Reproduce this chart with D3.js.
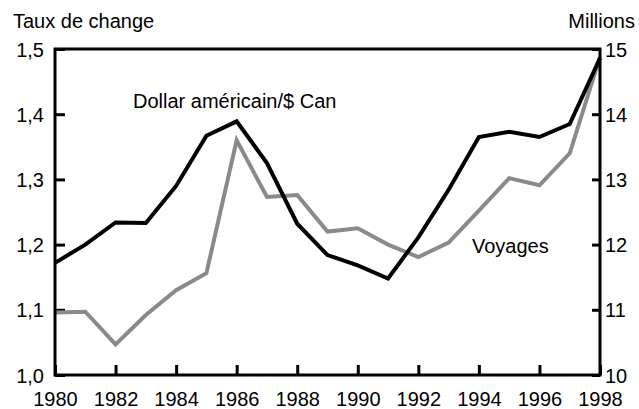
<!DOCTYPE html>
<html>
<head>
<meta charset="utf-8">
<script src="https://cdn.jsdelivr.net/npm/d3@7"></script>
<style>
  body { margin: 0; background: #fff; }
  svg text { font-family: "Liberation Sans", Arial, sans-serif; fill: #000; }
</style>
</head>
<body>
<svg id="chart" width="639" height="409"></svg>
<script>
const years = d3.range(1980, 1999)
// Dollar américain / $ Can (left axis)
const dollar = [1.172, 1.200, 1.234, 1.233, 1.290, 1.367, 1.389, 1.325, 1.232, 1.184,
                1.168, 1.148, 1.211, 1.284, 1.365, 1.373, 1.365, 1.385, 1.486]
// Voyages, millions (right axis)
const voyages = [10.96, 10.97, 10.47, 10.92, 11.30, 11.56, 13.60, 12.73, 12.76, 12.20,
                 12.25, 12.00, 11.81, 12.03, 12.52, 13.02, 12.91, 13.40, 14.88]
const leftTicks = [1.0, 1.1, 1.2, 1.3, 1.4, 1.5]
const rightTicks = [10, 11, 12, 13, 14, 15]
const xTicks = d3.range(1980, 1999, 2)

const svg = d3.select('#chart')
const margin = { top: 49, right: 39, bottom: 34, left: 55 }
const W = 639 - margin.left - margin.right
const H = 409 - margin.top - margin.bottom
const fs = '20px'

const x = d3.scaleLinear().domain([1980, 1998]).range([0, W])
const yL = d3.scaleLinear().domain([1.0, 1.5]).range([H, 0])
const yR = d3.scaleLinear().domain([10, 15]).range([H, 0])

const g = svg.append('g').attr('transform', `translate(${margin.left},${margin.top})`)

const comma = d => d3.format('.1f')(d).replace('.', ',')

// axes, ticks pointing inward
let ax = g.append('g').call(d3.axisLeft(yL).tickValues(leftTicks).tickFormat(comma).tickSize(-10).tickPadding(11))
ax.selectAll('text').style('font-size', fs).attr('dy', '0.35em')

let axR = g.append('g').attr('transform', `translate(${W},0)`)
    .call(d3.axisRight(yR).tickValues(rightTicks).tickFormat(d3.format('d')).tickSize(-8).tickPadding(5))
axR.selectAll('text').style('font-size', fs).attr('dy', '0.35em')

let axB = g.append('g').attr('transform', `translate(0,${H})`)
    .call(d3.axisBottom(x).tickValues(xTicks).tickFormat(d3.format('d')).tickSize(-10))
axB.selectAll('text').style('font-size', fs).attr('y', 31).attr('dy', 0)

g.selectAll('.domain').remove()
g.selectAll('.tick line').attr('stroke', '#000').attr('stroke-width', 3)

// lines
const lineL = d3.line().x((d, i) => x(years[i])).y(d => yL(d))
const lineR = d3.line().x((d, i) => x(years[i])).y(d => yR(d))

g.append('path').datum(voyages)
    .attr('d', lineR).attr('fill', 'none')
    .attr('stroke', '#8a8a8a').attr('stroke-width', 4)

g.append('path').datum(dollar)
    .attr('d', lineL).attr('fill', 'none')
    .attr('stroke', '#000').attr('stroke-width', 4)

// frame
g.append('rect')
    .attr('width', W).attr('height', H)
    .attr('fill', 'none').attr('stroke', '#000').attr('stroke-width', 3)

// titles and labels
svg.append('text').attr('x', 13).attr('y', 28).style('font-size', fs).text('Taux de change')
svg.append('text').attr('x', 635).attr('y', 28).attr('text-anchor', 'end').style('font-size', fs).text('Millions')
svg.append('text').attr('x', 133).attr('y', 108).style('font-size', fs).text('Dollar américain/$ Can')
svg.append('text').attr('x', 472).attr('y', 253).style('font-size', fs).text('Voyages')
</script>
</body>
</html>
